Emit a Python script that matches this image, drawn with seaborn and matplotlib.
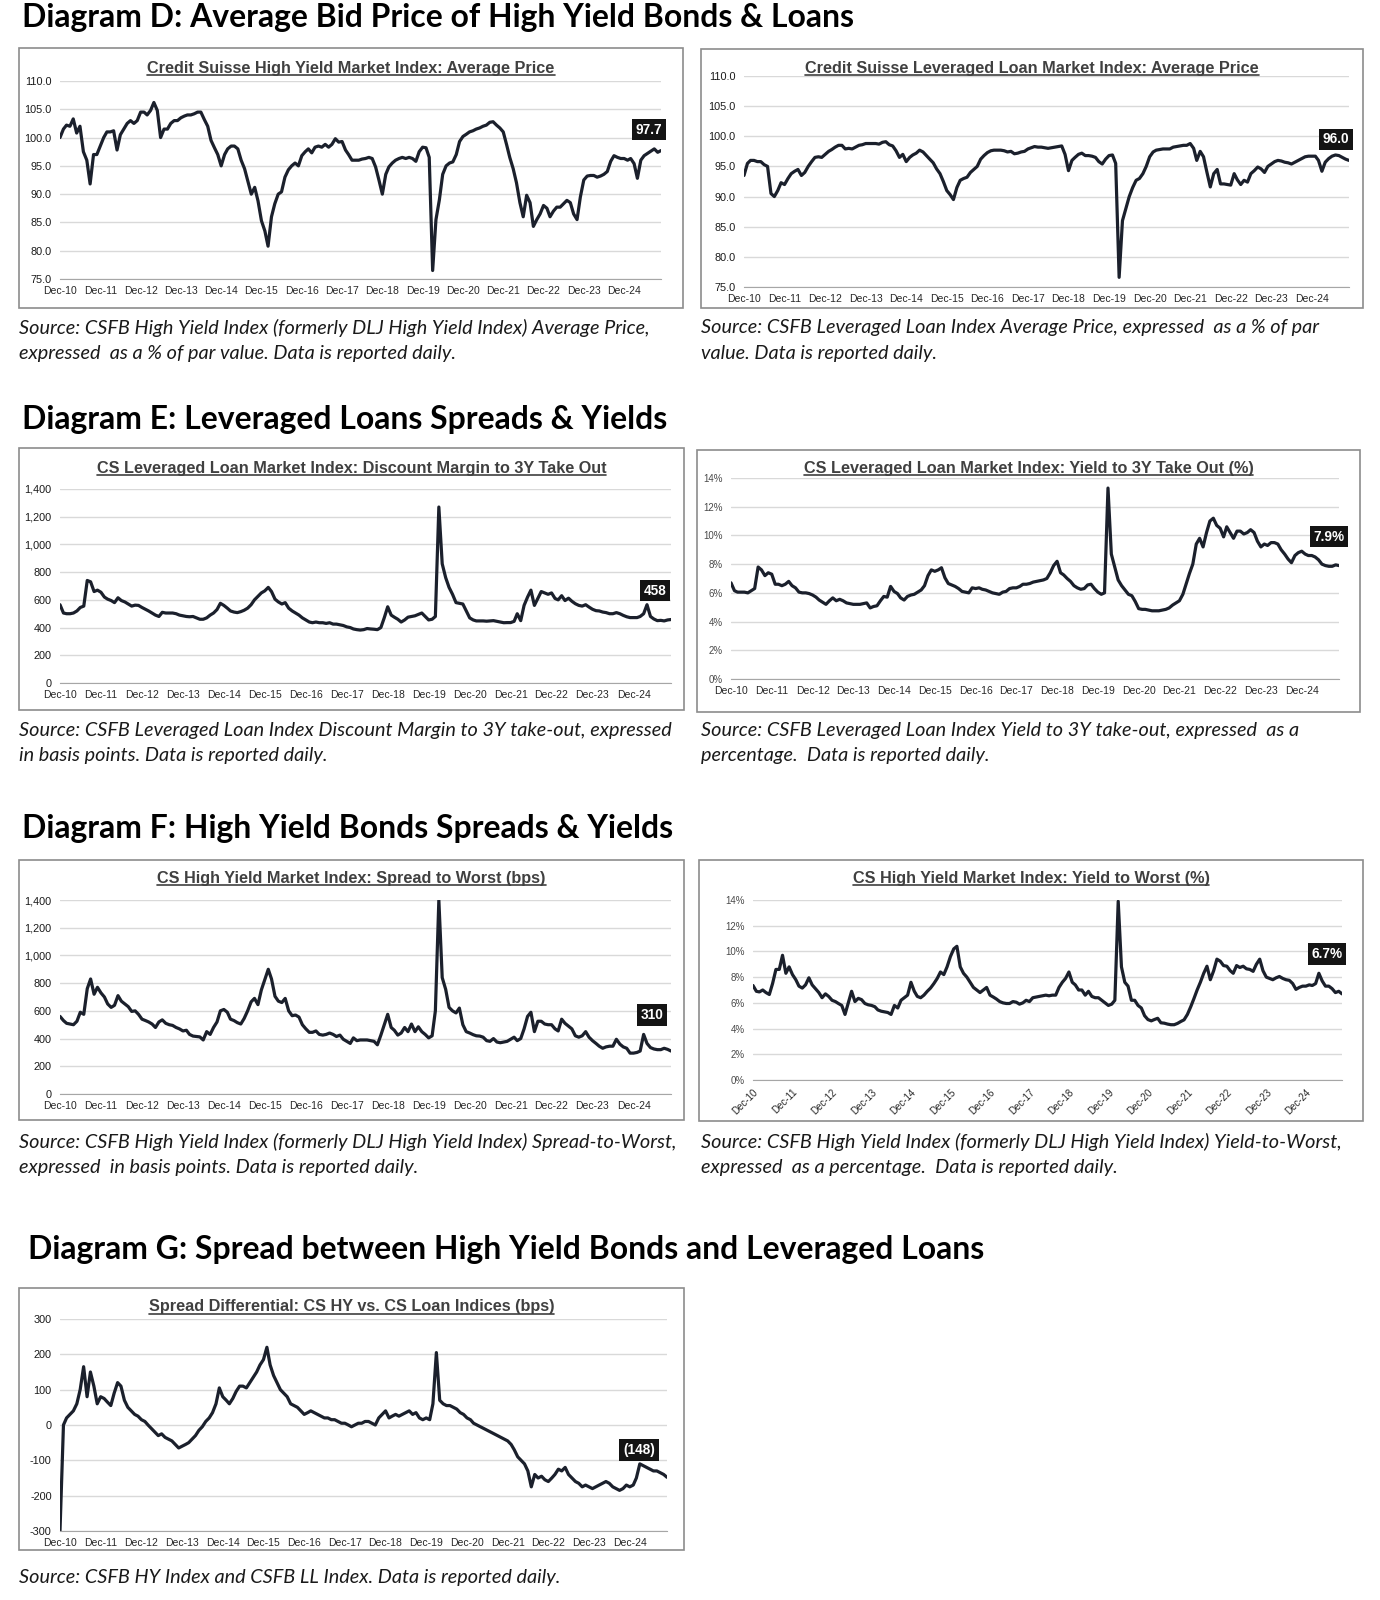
import numpy as np
import pandas as pd
import seaborn as sns
import matplotlib.pyplot as plt
from matplotlib.patches import Rectangle
from matplotlib.lines import Line2D

# monthly points, Dec-10 .. Nov-25
dates = pd.date_range("2010-12-31", periods=180, freq="ME")

hy_price = [100.0,
    101.5, 102.2, 102.0, 103.3, 100.8, 102.0, 97.5, 96.0, 91.8, 97.0, 97.0, 98.5,
    100.0, 101.0, 101.0, 101.2, 97.8, 100.5, 101.5, 102.5, 103.0, 102.5, 103.0, 104.5,
    104.5, 104.0, 104.8, 106.2, 104.8, 100.0, 101.5, 101.5, 102.5, 103.0, 103.0, 103.5,
    103.8, 104.0, 104.0, 104.2, 104.5, 104.5, 103.2, 102.0, 99.5, 98.2, 97.0, 95.0,
    97.0, 98.0, 98.5, 98.5, 98.0, 96.0, 94.5, 92.2, 90.0, 91.2, 88.8, 85.3,
    83.5, 80.8, 86.0, 88.3, 90.0, 90.4, 93.0, 94.3, 95.0, 95.5, 95.0, 96.8,
    97.5, 98.0, 97.3, 98.3, 98.5, 98.3, 98.8, 98.3, 98.8, 99.8, 99.2, 99.3,
    97.8, 97.0, 96.0, 96.0, 96.0, 96.2, 96.3, 96.5, 96.3, 94.8, 92.5, 90.0,
    93.5, 94.8, 95.5, 96.0, 96.3, 96.5, 96.3, 96.5, 96.3, 95.8, 97.5, 98.3,
    98.2, 96.5, 76.5, 85.5, 89.0, 93.5, 95.0, 95.5, 95.7, 97.0, 99.3, 100.2,
    100.6, 101.0, 101.2, 101.5, 101.7, 102.0, 102.2, 102.7, 102.8, 102.2, 101.7, 101.0,
    98.7, 96.5, 94.5, 92.0, 88.5, 86.0, 89.8, 88.5, 84.3, 85.5, 86.5, 88.0,
    87.5, 86.0, 87.0, 87.7, 87.7, 88.3, 88.9, 88.5, 86.5, 85.5, 89.5, 92.5,
    93.2, 93.3, 93.3, 93.0, 93.2, 93.5, 94.0, 95.8, 96.8, 96.5, 96.3, 96.3,
    96.0, 96.3, 95.4, 92.8, 96.0, 96.8, 97.2, 97.6, 98.0, 97.4, 97.7]

ll_price = [93.5,
    95.5, 96.0, 96.0, 95.8, 95.8, 95.3, 95.0, 90.5, 90.0, 91.0, 92.3, 92.0,
    93.0, 93.8, 94.2, 94.5, 93.5, 94.0, 95.0, 95.8, 96.5, 96.6, 96.5, 97.0,
    97.5, 97.8, 98.2, 98.5, 98.5, 97.9, 98.0, 97.9, 98.2, 98.5, 98.6, 98.8,
    98.8, 98.8, 98.8, 98.7, 99.0, 99.1, 98.6, 98.4, 97.6, 96.5, 97.0, 95.8,
    96.5, 96.9, 97.2, 97.7, 97.4, 96.8, 96.2, 95.6, 94.6, 93.8, 92.5, 91.0,
    90.3, 89.5, 91.5, 92.7, 93.0, 93.2, 94.0, 94.5, 95.0, 96.2, 96.8, 97.3,
    97.6, 97.7, 97.7, 97.7, 97.6, 97.4, 97.5, 97.1, 97.2, 97.4, 97.5, 97.9,
    98.1, 98.3, 98.2, 98.2, 98.1, 98.0, 98.1, 98.2, 98.3, 98.4, 97.0, 94.3,
    96.0, 96.5, 97.0, 97.2, 96.8, 96.8, 96.7, 96.5, 95.8, 95.4, 96.2, 96.8,
    96.9, 95.5, 76.6, 86.0, 88.0, 90.0, 91.5, 92.7, 93.0, 93.8, 95.0, 96.6,
    97.4, 97.7, 97.8, 97.9, 97.9, 97.9, 98.2, 98.3, 98.4, 98.5, 98.5, 98.8,
    98.0, 96.0, 97.5, 96.6, 94.0, 91.6, 93.8, 94.5, 92.1, 92.1, 92.0, 91.9,
    93.8, 92.8, 92.0, 92.7, 92.4, 93.8, 94.3, 94.9, 94.6, 94.0, 95.0, 95.4,
    95.8, 96.0, 95.9, 95.7, 95.6, 95.4, 95.7, 96.0, 96.3, 96.6, 96.7, 96.7,
    96.7, 96.0, 94.2, 95.7, 96.3, 96.7, 96.9, 96.8, 96.5, 96.2, 96.0]

ll_dm = [565,
    505, 500, 500, 505, 520, 545, 555, 740, 730, 660, 670, 655,
    620, 605, 595, 580, 615, 595, 585, 570, 555, 562, 560, 545,
    532, 520, 505, 490, 480, 510, 505, 505, 505, 500, 490, 485,
    480, 478, 480, 470, 460, 460, 470, 490, 505, 530, 575, 560,
    540, 520, 512, 508, 515, 525, 540, 565, 600, 625, 650, 665,
    690, 660, 605, 585, 570, 580, 540, 520, 505, 490, 470, 455,
    440, 435, 440, 435, 435, 430, 435, 425, 425, 420, 415, 405,
    400, 390, 385, 382, 385, 393, 390, 388, 385, 400, 470, 550,
    490, 475, 460, 440, 455, 475, 480, 485, 495, 505, 480, 455,
    460, 480, 1270, 860, 760, 690, 640, 580, 575, 570, 520, 470,
    455, 448, 448, 448, 446, 448, 450, 445, 440, 435, 436, 436,
    445, 500, 450, 560, 620, 670, 560, 610, 660, 650, 640, 650,
    610, 600, 630, 595, 612, 590, 572, 560, 555, 565, 548, 532,
    522, 520, 512, 508, 500, 500, 508, 500, 488, 478, 472, 472,
    472, 480, 500, 565, 480, 462, 450, 452, 448, 455, 458]

ll_yield = [6.7,
    6.15, 6.05, 6.05, 6.05, 6.0, 6.15, 6.3, 7.8, 7.6, 7.2, 7.4, 7.3,
    6.6, 6.6, 6.5, 6.6, 6.8, 6.5, 6.35, 6.05, 6.0, 6.0, 5.95, 5.85,
    5.7, 5.5, 5.35, 5.2, 5.45, 5.65, 5.45, 5.55, 5.45, 5.3, 5.25, 5.2,
    5.2, 5.2, 5.25, 5.3, 4.95, 5.05, 5.1, 5.45, 5.75, 5.7, 6.45, 6.1,
    5.95, 5.65, 5.5, 5.75, 5.85, 5.9, 6.05, 6.2, 6.5, 7.2, 7.6, 7.5,
    7.6, 7.75, 7.05, 6.65, 6.55, 6.45, 6.3, 6.1, 6.05, 6.0, 6.35, 6.3,
    6.35, 6.25, 6.2, 6.1, 6.0, 5.95, 5.9, 6.05, 6.1, 6.3, 6.35, 6.35,
    6.45, 6.6, 6.6, 6.65, 6.75, 6.8, 6.85, 6.9, 7.0, 7.4, 7.9, 8.2,
    7.4, 7.25, 7.0, 6.8, 6.5, 6.35, 6.25, 6.3, 6.55, 6.6, 6.3, 6.05,
    5.9, 6.0, 13.3, 8.7, 7.8, 6.9, 6.5, 6.2, 5.9, 5.8, 5.4, 4.9,
    4.85, 4.85, 4.8, 4.75, 4.75, 4.75, 4.8, 4.85, 4.95, 5.15, 5.3, 5.45,
    5.9, 6.6, 7.35, 8.0, 9.4, 9.8, 9.2, 10.2, 11.0, 11.2, 10.7, 10.5,
    9.9, 10.6, 10.2, 9.8, 10.3, 10.3, 10.1, 10.2, 10.4, 10.2, 9.6, 9.2,
    9.4, 9.3, 9.5, 9.5, 9.4, 9.0, 8.7, 8.35, 8.1, 8.6, 8.8, 8.9,
    8.7, 8.6, 8.6, 8.5, 8.3, 8.0, 7.9, 7.85, 7.85, 7.95, 7.9]

hy_stw = [560,
    530, 510, 505, 500, 525, 590, 575, 760, 830, 720, 770, 730,
    700, 650, 625, 640, 710, 670, 650, 630, 596, 600, 575, 540,
    530, 520, 505, 480, 520, 535, 510, 500, 495, 480, 470, 455,
    460, 430, 418, 415, 412, 390, 450, 430, 480, 520, 600, 610,
    590, 540, 530, 515, 505, 545, 600, 665, 690, 645, 750, 825,
    900, 830, 705, 670, 660, 690, 600, 565, 570, 555, 500, 470,
    445, 445, 455, 430, 425, 430, 440, 430, 415, 425, 395, 380,
    365, 405, 385, 390, 390, 390, 385, 380, 355, 425, 500, 575,
    480, 460, 425, 440, 480, 450, 505, 450, 485, 450, 430, 405,
    420, 600, 1400, 840, 755, 625, 600, 585, 620, 500, 450, 440,
    428, 420, 418, 410, 385, 380, 400, 375, 370, 375, 380, 395,
    410, 385, 400, 470, 560, 590, 450, 525, 525, 505, 500, 500,
    470, 455, 540, 510, 490, 470, 420, 410, 420, 450, 410, 385,
    365, 345, 330, 340, 345, 345, 395, 360, 340, 330, 295, 295,
    300, 310, 430, 365, 335, 325, 320, 320, 330, 322, 310]

hy_ytw = [7.35,
    6.9, 6.85, 7.0, 6.8, 6.65, 7.5, 8.6, 8.6, 9.7, 8.3, 8.8, 8.2,
    7.8, 7.3, 7.15, 7.4, 7.95, 7.4, 7.1, 6.8, 6.4, 6.7, 6.5, 6.2,
    6.1, 5.95, 5.8, 5.1, 6.0, 6.9, 6.1, 6.35, 6.25, 5.95, 5.85, 5.8,
    5.7, 5.45, 5.35, 5.3, 5.25, 5.1, 5.8, 5.6, 6.2, 6.4, 6.6, 7.6,
    6.9, 6.5, 6.4, 6.6, 6.9, 7.15, 7.5, 7.9, 8.4, 8.2, 8.8, 9.6,
    10.2, 10.4, 8.8, 8.3, 8.0, 7.6, 7.2, 7.0, 6.8, 7.0, 7.2, 6.6,
    6.45, 6.3, 6.1, 6.0, 5.95, 5.95, 6.1, 6.05, 5.9, 6.0, 6.2, 6.1,
    6.4, 6.45, 6.5, 6.55, 6.6, 6.55, 6.6, 6.6, 7.2, 7.6, 7.9, 8.4,
    7.6, 7.4, 7.0, 7.0, 6.6, 6.9, 6.5, 6.4, 6.4, 6.2, 6.0, 5.8,
    5.9, 6.2, 13.9, 8.8, 7.6, 7.3, 6.2, 6.2, 5.8, 5.6, 5.0, 4.7,
    4.6, 4.7, 4.8, 4.45, 4.42, 4.35, 4.3, 4.3, 4.4, 4.55, 4.68, 5.1,
    5.7, 6.3, 7.0, 7.6, 8.3, 8.85, 7.8, 8.5, 9.4, 9.24, 8.9, 8.85,
    8.5, 8.3, 8.9, 8.75, 8.85, 8.65, 8.6, 8.45, 9.0, 9.4, 8.5, 8.0,
    7.9, 7.8, 7.95, 8.05, 7.9, 7.8, 7.75, 7.5, 7.05, 7.2, 7.3, 7.3,
    7.4, 7.35, 7.5, 8.3, 7.7, 7.3, 7.3, 7.1, 6.8, 6.9, 6.7]

spread_diff = [-300,
    0, 20, 30, 40, 60, 100, 165, 80, 150, 110, 60, 80,
    75, 65, 55, 90, 120, 110, 70, 50, 40, 30, 25, 15,
    10, 0, -10, -20, -30, -25, -35, -40, -45, -55, -65, -60,
    -55, -50, -40, -30, -15, -5, 10, 20, 35, 60, 105, 80,
    70, 60, 75, 95, 110, 110, 105, 120, 135, 150, 170, 185,
    220, 170, 140, 120, 100, 90, 80, 60, 55, 50, 40, 30,
    35, 40, 35, 30, 25, 20, 20, 15, 15, 10, 5, 5,
    0, -5, 0, 5, 5, 10, 10, 5, 0, 20, 30, 40,
    20, 25, 30, 25, 30, 35, 40, 30, 35, 20, 15, 20,
    15, 60, 205, 70, 60, 55, 55, 50, 45, 35, 30, 20,
    15, 5, 0, -5, -10, -15, -20, -25, -30, -35, -40, -45,
    -55, -70, -90, -100, -110, -130, -175, -140, -150, -145, -155, -160,
    -150, -140, -125, -130, -120, -140, -150, -160, -165, -175, -170, -175,
    -180, -175, -170, -165, -160, -165, -175, -180, -185, -180, -170, -175,
    -170, -150, -110, -115, -120, -125, -130, -130, -135, -140, -148]

years = list(range(2010, 2025))
xticks = [pd.Timestamp(f"{y}-12-31") for y in years]
xlabels = [f"Dec-{y % 100:02d}" for y in years]

sns.set_style("white")
plt.rcParams["font.family"] = ["Liberation Sans", "DejaVu Sans"]

W, H = 1380, 1600
LINE = "#1b202c"
fig = plt.figure(figsize=(W / 100, H / 100), dpi=100)


def frac(l, t, r, b):
    return [l / W, 1 - b / H, (r - l) / W, (b - t) / H]


def draw_panel(box, axbox, title, title_y, values, ylim, step, fmt, label, offset,
               small=False, rotate=False):
    fig.add_artist(Rectangle((box[0] / W, 1 - box[3] / H), (box[2] - box[0]) / W,
                             (box[3] - box[1]) / H, transform=fig.transFigure,
                             fill=False, ec="#8c8c8c", lw=1.2))
    ax = fig.add_axes(frac(*axbox))
    df = pd.DataFrame({"date": dates, "value": values})
    sns.lineplot(data=df, x="date", y="value", ax=ax, color=LINE, lw=2.3)
    ax.set_xlim(dates[0], dates[-1])
    ax.set_ylim(*ylim)
    ticks = np.arange(ylim[0], ylim[1] + step / 2, step)
    ax.set_yticks(ticks)
    ax.set_yticklabels([fmt(t) for t in ticks], fontsize=7.0 if small else 7.8,
                       color="#4a4a4a" if small else "#1a1a1a")
    ax.set_xticks(xticks)
    if rotate:
        ax.set_xticklabels(xlabels, fontsize=7.0, rotation=45, ha="right",
                           rotation_mode="anchor")
    else:
        ax.set_xticklabels(xlabels, fontsize=7.5)
    ax.grid(axis="y", color="#d9d9d9", lw=1)
    ax.set_axisbelow(True)
    for s in ["top", "right", "left"]:
        ax.spines[s].set_visible(False)
    ax.spines["bottom"].set_color("#a6a6a6")
    ax.tick_params(axis="y", length=0, pad=6)
    ax.tick_params(axis="x", length=3, color="#a6a6a6", pad=2)
    ax.set_xlabel("")
    ax.set_ylabel("")
    ax.annotate(label, xy=(dates[-1], values[-1]), xytext=offset,
                textcoords="offset pixels", ha="center", va="center",
                color="white", fontweight="bold", fontsize=9.8,
                bbox=dict(boxstyle="square,pad=0.28", fc="#141414", ec="none"),
                annotation_clip=False)
    t = fig.text(((box[0] + box[2]) / 2) / W, 1 - title_y / H, title, ha="center",
                 va="center", fontsize=9.5, fontweight="bold", color="#404040")
    return t


price_fmt = lambda v: f"{v:.1f}"
bps_fmt = lambda v: f"{int(round(v)):,}"
pct_fmt = lambda v: f"{int(round(v))}%"
diff_fmt = lambda v: f"{int(round(v))}"

panel_titles = []
panel_titles.append(draw_panel((19, 48, 683, 308), (60, 81, 661, 279),
    "Credit Suisse High Yield Market Index: Average Price", 68,
    hy_price, (75, 110), 5, price_fmt, "97.7", (-12, 21)))
panel_titles.append(draw_panel((701, 49, 1363, 308), (744, 76, 1349, 287),
    "Credit Suisse Leveraged Loan Market Index: Average Price", 68,
    ll_price, (75, 110), 5, price_fmt, "96.0", (-13, 21)))
panel_titles.append(draw_panel((19, 448, 684, 710), (60, 489, 671, 683),
    "CS Leveraged Loan Market Index: Discount Margin to 3Y Take Out", 468,
    ll_dm, (0, 1400), 200, bps_fmt, "458", (-16, 29)))
panel_titles.append(draw_panel((697, 450, 1360, 712), (731, 478, 1339, 679),
    "CS Leveraged Loan Market Index: Yield to 3Y Take Out (%)", 468,
    ll_yield, (0, 14), 2, pct_fmt, "7.9%", (-10, 29), small=True))
panel_titles.append(draw_panel((19, 860, 684, 1120), (60, 900, 671, 1094),
    "CS High Yield Market Index: Spread to Worst (bps)", 879,
    hy_stw, (0, 1400), 200, bps_fmt, "310", (-19, 36)))
panel_titles.append(draw_panel((699, 860, 1363, 1121), (753, 900, 1342, 1080),
    "CS High Yield Market Index: Yield to Worst (%)", 879,
    hy_ytw, (0, 14), 2, pct_fmt, "6.7%", (-15, 40), small=True, rotate=True))
panel_titles.append(draw_panel((19, 1288, 684, 1550), (60, 1319, 667, 1531),
    "Spread Differential: CS HY vs. CS Loan Indices (bps)", 1307,
    spread_diff, (-300, 300), 100, diff_fmt, "(148)", (-28, 27)))

# section headings
heads = []
for x, y, s in [(22, 18, "Diagram D: Average Bid Price of High Yield Bonds & Loans"),
                (22, 420, "Diagram E: Leveraged Loans Spreads & Yields"),
                (22, 829, "Diagram F: High Yield Bonds Spreads & Yields"),
                (28, 1250, "Diagram G: Spread between High Yield Bonds and Leveraged Loans")]:
    heads.append(fig.text(x / W, 1 - y / H, s, ha="left", va="center", fontsize=20,
                          fontweight="bold", family=["Lato", "DejaVu Sans"], color="black"))

# source notes
notes = []
for x, y, s in [
    (19, 328, "Source: CSFB High Yield Index (formerly DLJ High Yield Index) Average Price,"),
    (19, 353, "expressed  as a % of par value. Data is reported daily."),
    (701, 328, "Source: CSFB Leveraged Loan Index Average Price, expressed  as a % of par"),
    (701, 353, "value. Data is reported daily."),
    (19, 731, "Source: CSFB Leveraged Loan Index Discount Margin to 3Y take-out, expressed"),
    (19, 756, "in basis points. Data is reported daily."),
    (701, 731, "Source: CSFB Leveraged Loan Index Yield to 3Y take-out, expressed  as a"),
    (701, 756, "percentage.  Data is reported daily."),
    (19, 1142, "Source: CSFB High Yield Index (formerly DLJ High Yield Index) Spread-to-Worst,"),
    (19, 1167, "expressed  in basis points. Data is reported daily."),
    (701, 1142, "Source: CSFB High Yield Index (formerly DLJ High Yield Index) Yield-to-Worst,"),
    (701, 1167, "expressed  as a percentage.  Data is reported daily."),
    (19, 1577, "Source: CSFB HY Index and CSFB LL Index. Data is reported daily."),
]:
    notes.append(fig.text(x / W, 1 - y / H, s, ha="left", va="center", fontsize=12,
                          style="italic", family=["Lato", "DejaVu Sans"], color="#1a1a1a"))

# fit the text sizes to the widths measured on the reference
fig.canvas.draw()
r = fig.canvas.get_renderer()
k = 830 / heads[0].get_window_extent(r).width
for t in heads:
    t.set_fontsize(t.get_fontsize() * k)
k = 654 / notes[8].get_window_extent(r).width
for t in notes:
    t.set_fontsize(t.get_fontsize() * k)
k = 509 / panel_titles[2].get_window_extent(r).width
for t in panel_titles:
    t.set_fontsize(t.get_fontsize() * k)

# underline the chart titles
fig.canvas.draw()
for t in panel_titles:
    bb = t.get_window_extent(r)
    y = (bb.y0 + 1) / H
    fig.add_artist(Line2D([bb.x0 / W, bb.x1 / W], [y, y], transform=fig.transFigure,
                          color="#404040", lw=1.2))

fig.savefig("out.png", dpi=100)
